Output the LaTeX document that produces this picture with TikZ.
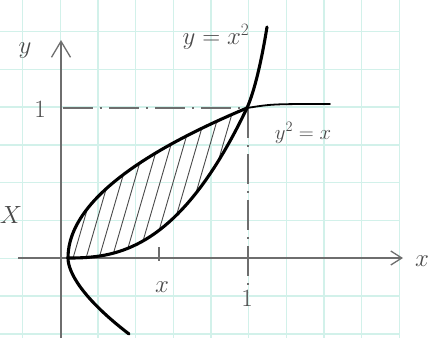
\documentclass[tikz,border=0pt]{standalone}
\usetikzlibrary{arrows.meta}
\definecolor{gridc}{HTML}{D2F1EA}
\definecolor{pencil}{HTML}{4A4A4A}
\definecolor{axisc}{HTML}{6E6E6E}
\begin{document}
\begin{tikzpicture}[x=1pt,y=-1pt,
  gridline/.style={gridc, line width=1.3pt},
  axisline/.style={axisc, line width=1.3pt},
  curve/.style={black, line width=3.1pt, line cap=round, line join=round},
  guide/.style={axisc, line width=1.1pt, dash pattern=on 30pt off 7pt on 2pt off 7pt},
  hatchline/.style={pencil, line width=0.9pt},
  lbl/.style={pencil, inner sep=0pt, font=\fontsize{20}{22}\selectfont}]
\useasboundingbox (0,0) rectangle (434,338);
\fill[white] (0,0) rectangle (434,338);
% graph paper
\foreach \gx in {22.5,60.2,...,401} \draw[gridline] (\gx,0) -- (\gx,338);
\foreach \gy in {31.5,69.3,...,338} \draw[gridline] (0,\gy) -- (400,\gy);
% key points
\coordinate (O) at (68,258);
\coordinate (P) at (247,108);
\coordinate (xs) at (18,258);
\coordinate (xe) at (403,258);
\coordinate (ys) at (61,338);
\coordinate (ye) at (61,40);
\coordinate (yone) at (63,108);
\coordinate (xone) at (248,292);
\coordinate (tickA) at (159,247);
\coordinate (tickB) at (159,261);
\coordinate (topend) at (267,27);
\coordinate (flatend) at (330,104);
\coordinate (lowend) at (129,334);
% axes
\draw[axisline, -{Straight Barb[length=11pt,width=14pt]}] (xs) -- (xe);
\draw[axisline, -{Straight Barb[length=16pt,width=19pt]}] (ys) -- (ye);
% guides
\draw[guide] (yone) -- (P);
\draw[guide] (248,108) -- (xone);
\draw[axisline] (tickA) -- (tickB);
% hatching
\begin{scope}
\clip plot[domain=0:1,samples=40] ({68+179*\x*\x},{258-150*\x})
  -- plot[domain=1:0,samples=40] ({68+179*\x},{258-150*\x^2.5}) -- cycle;
\foreach \h in {30,43,...,260} \draw[hatchline] (\h,272) -- ++(50,-172);
\end{scope}
% curves
\draw[curve] plot[domain=0:1,samples=40] ({68+179*\x*\x},{258-150*\x});
\draw[curve] plot[domain=0:1,samples=40] ({68+179*\x},{258-150*\x^2.5}) .. controls (255,90) and (262,58) .. (topend);
\draw[curve] (O) .. controls (68,272) and (82,298) .. (lowend);
\draw[black, line width=1.8pt, line cap=round] (P) .. controls (272,104) .. (flatend);
% labels
\node[lbl, font=\fontsize{26}{28}\selectfont] (ylab) at (25,51) {$y$};
\node[lbl, font=\fontsize{23}{25}\selectfont] (yonelab) at (40,109) {$1$};
\node[lbl, font=\fontsize{24}{26}\selectfont] (Xlab) at (11,215) {$X$};
\node[lbl, font=\fontsize{26}{28}\selectfont] (fa) at (216,37) {$y=x^{2}$};
\node[lbl, font=\fontsize{22}{24}\selectfont] (fb) at (303,133) {$y^{2}=x$};
\node[lbl, font=\fontsize{26}{28}\selectfont] (xlab) at (162,287) {$x$};
\node[lbl, font=\fontsize{23}{25}\selectfont] (xonelab) at (247,298) {$1$};
\node[lbl, font=\fontsize{26}{28}\selectfont] (xaxlab) at (422,261) {$x$};
\end{tikzpicture}
\end{document}
